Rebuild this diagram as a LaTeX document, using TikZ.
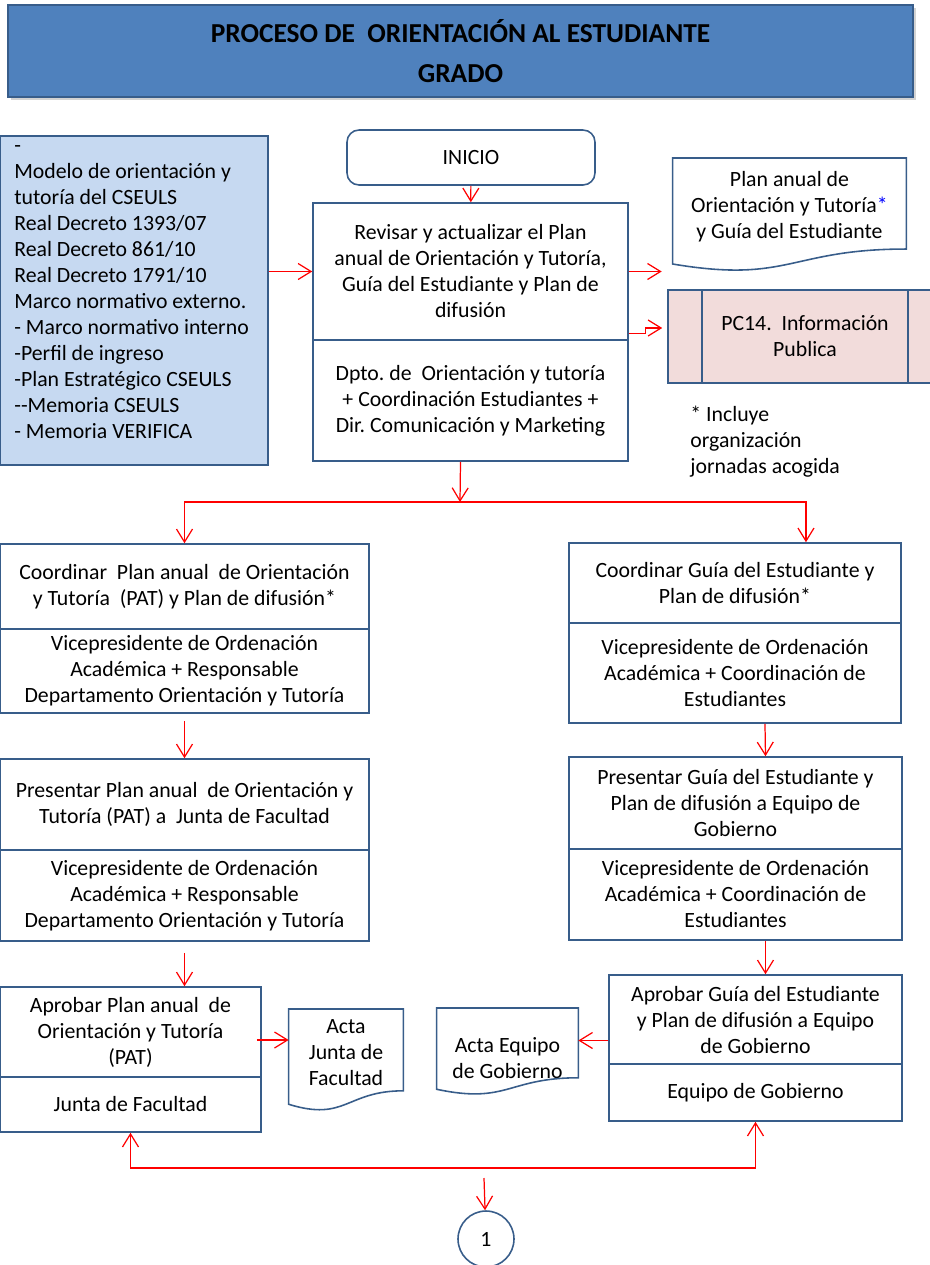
\documentclass[tikz,border=0pt]{standalone}
\usepackage{fontspec}
\setmainfont{Carlito}
\usepackage{xcolor}
\usetikzlibrary{arrows.meta,calc,shadows}

\definecolor{titleblue}{RGB}{79,129,189}
\definecolor{edgeblue}{RGB}{56,93,138}
\definecolor{inputblue}{RGB}{198,217,241}
\definecolor{pcpink}{RGB}{242,220,219}

\frenchspacing

% document symbol: #1 node, #2 full height
\newcommand{\docoutline}[2]{%
  \draw[docline] (#1.north west) -- (#1.north east)
    -- ($(#1.north east)+(0,0.802*#2)$)
    .. controls ($(#1.north)+(0,0.802*#2)$) and ($(#1.north)+(0,1.1075*#2)$)
    .. ($(#1.north west)+(0,0.934*#2)$) -- cycle;}

\begin{document}
\begin{tikzpicture}[x=0.02cm, y=-0.02cm,
    every node/.style={font=\fontsize{12.4}{14.8}\selectfont, align=center, inner sep=1pt},
    stepbox/.style={draw=edgeblue, line width=0.9pt, fill=white},
    docline/.style={draw=edgeblue, line width=0.9pt},
    docnode/.style={anchor=north, inner sep=0pt},
    flow/.style={draw=red, line width=0.7pt, ->},
    >={Straight Barb[length=0.26cm,width=0.32cm]}]
    \useasboundingbox (0,0) rectangle (930,1265);

    % Title
    \node[draw=edgeblue, line width=1.4pt, fill=titleblue, drop shadow={opacity=0.35, shadow xshift=0.06cm, shadow yshift=-0.06cm}, minimum width=18.1cm, minimum height=1.84cm, font=\fontsize{15.6}{22.8}\selectfont\bfseries] (title) at (460.5,51) {PROCESO DE~ ORIENTACIÓN AL ESTUDIANTE\\GRADO};

    % Inputs
    \node[draw=edgeblue, line width=0.9pt, fill=inputblue, minimum width=5.36cm, minimum height=6.58cm] (inputs) at (134,300.5) {};
    \node[anchor=north west, align=left, inner sep=0pt] (inlist) at (14,145) {-\\Modelo de orientación y\\tutoría del CSEULS\\Real Decreto 1393/07\\Real Decreto 861/10\\Real Decreto 1791/10\\Marco normativo externo.\\- Marco normativo interno\\-Perfil de ingreso\\-Plan Estratégico CSEULS\\-{}-Memoria CSEULS\\- Memoria VERIFICA};

    % Start and review
    \node[stepbox, rounded corners=0.24cm, minimum width=4.96cm, minimum height=1.1cm] (inicio) at (471,157.5) {INICIO};
    \node[stepbox, minimum width=6.3cm, minimum height=2.74cm] (rev) at (470.5,271.5) {Revisar y actualizar el Plan\\anual de Orientación y Tutoría,\\Guía del Estudiante y Plan de\\difusión};
    \node[stepbox, minimum width=6.3cm, minimum height=2.42cm] (revr) at (470.5,400.5) {Dpto. de~ Orientación y tutoría\\+ Coordinación Estudiantes +\\Dir. Comunicación y Marketing};

    % Outputs of the review
    \node[docnode, minimum width=4.66cm, minimum height=1.92cm] (plandoc) at (789.5,158) {Plan anual de\\Orientación y Tutoría{\color{blue}*}\\y Guía del Estudiante};
    \docoutline{plandoc}{113.5}
    \node[draw=edgeblue, line width=0.9pt, fill=pcpink, minimum width=5.48cm, minimum height=1.86cm] (pc14) at (805,336.5) {PC14.~ Información\\Publica};
    \draw[edgeblue, line width=0.9pt] ([xshift=0.7cm]pc14.north west) -- ([xshift=0.7cm]pc14.south west);
    \draw[edgeblue, line width=0.9pt] ([xshift=-0.7cm]pc14.north east) -- ([xshift=-0.7cm]pc14.south east);
    \node[anchor=north west, align=left, inner sep=0pt] (note) at (690,406) {* Incluye\\organización\\jornadas acogida};

    % Left branch: PAT
    \node[stepbox, minimum width=7.38cm, minimum height=1.7cm] (coordp) at (184.5,586.5) {Coordinar~ Plan anual~ de Orientación\\y Tutoría~ (PAT) y Plan de difusión*};
    \node[stepbox, minimum width=7.38cm, minimum height=1.68cm] (coordpr) at (184.5,671) {Vicepresidente de Ordenación\\Académica + Responsable\\Departamento Orientación y Tutoría};
    \node[stepbox, minimum width=7.38cm, minimum height=1.82cm] (presp) at (184.5,804.5) {Presentar Plan anual~ de Orientación y\\Tutoría (PAT) a~ Junta de Facultad};
    \node[stepbox, minimum width=7.38cm, minimum height=1.82cm] (prespr) at (184.5,895.5) {Vicepresidente de Ordenación\\Académica + Responsable\\Departamento Orientación y Tutoría};
    \node[stepbox, minimum width=5.22cm, minimum height=1.8cm] (aprobp) at (130.5,1032) {Aprobar Plan anual~ de\\Orientación y Tutoría\\(PAT)};
    \node[stepbox, minimum width=5.22cm, minimum height=1.1cm] (aprobpr) at (130.5,1104.5) {Junta de Facultad};
    \node[docnode, minimum width=2.28cm, minimum height=1.72cm] (actaj) at (346,1009) {Acta\\Junta de\\Facultad};
    \docoutline{actaj}{102}

    % Right branch: guide
    \node[stepbox, minimum width=6.64cm, minimum height=1.6cm] (coordg) at (735,583) {Coordinar Guía del Estudiante y\\Plan de difusión*};
    \node[stepbox, minimum width=6.64cm, minimum height=2cm] (coordgr) at (735,673) {Vicepresidente de Ordenación\\Académica + Coordinación de\\Estudiantes};
    \node[stepbox, minimum width=6.66cm, minimum height=1.84cm] (presg) at (735.5,803) {Presentar Guía del Estudiante y\\Plan de difusión a Equipo de\\Gobierno};
    \node[stepbox, minimum width=6.66cm, minimum height=1.82cm] (presgr) at (735.5,894.5) {Vicepresidente de Ordenación\\Académica + Coordinación de\\Estudiantes};
    \node[stepbox, minimum width=5.86cm, minimum height=1.78cm] (aprobg) at (755.5,1019.5) {Aprobar Guía del Estudiante\\y Plan de difusión a Equipo\\de Gobierno};
    \node[stepbox, minimum width=5.86cm, minimum height=1.14cm] (aprobgr) at (755.5,1092.5) {Equipo de Gobierno};
    \node[docnode, minimum width=2.82cm, minimum height=2cm] (actae) at (507.5,1008) {Acta Equipo\\de Gobierno};
    \docoutline{actae}{87}

    % Connector
    \node[draw=edgeblue, line width=0.9pt, circle, minimum size=1.12cm] (conn) at (486,1239) {1};

    % Connections
    \draw[flow] (inicio) -- (rev);
    \draw[flow] (inputs.east |- rev.west) -- (rev.west);
    \draw[flow, shorten >=0.22cm] (rev.east) -- (rev.east -| plandoc.west);
    \draw[flow, shorten >=0.1cm] ([yshift=0.14cm]rev.south east) -- ++(17,0) |- ([yshift=0.17cm]pc14.west);
    \coordinate (split) at (460,502);
    \draw[flow] ([xshift=-0.2cm]revr.south) -- (split);
    \draw[flow] (split) -| (coordp.north);
    \draw[flow] (split) -| ([xshift=1.42cm]coordg.north);
    \draw[flow, shorten <=0.14cm] (coordpr.south) -- (presp.north);
    \draw[flow] ([xshift=0.6cm]coordgr.south) -- ([xshift=0.6cm]presg.north);
    \draw[flow, shorten <=0.22cm] (prespr.south) -- (prespr.south |- aprobp.north);
    \draw[flow] ([xshift=0.6cm]presgr.south) -- ([xshift=0.6cm]presgr.south |- aprobg.north);
    \draw[flow] ($(aprobp.east)+(-5,8)$) -- ($(actaj.west |- aprobp.east)+(0,8)$);
    \draw[flow] ($(aprobg.west)+(0,21)$) -- ($(actae.east |- aprobg.west)+(0,21)$);
    \coordinate (merge) at (486,1168);
    \draw[flow, <->] (aprobpr.south) |- (merge) -| (aprobgr.south);
    \coordinate (down) at (484,1178);
    \draw[flow] (down) -- (conn);
\end{tikzpicture}
\end{document}
